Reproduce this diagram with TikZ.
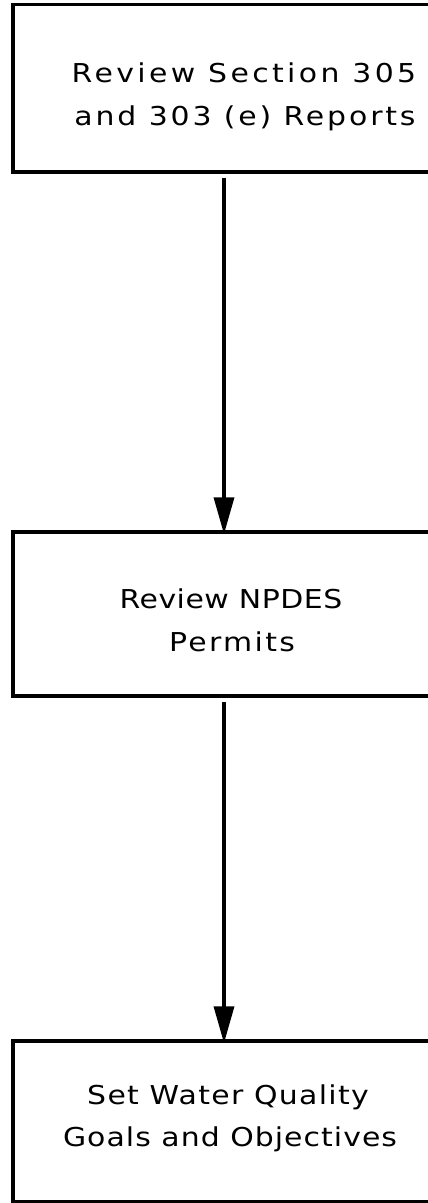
\documentclass[tikz,border=0pt]{standalone}
\usepackage{fontspec}
\setmainfont{DejaVu Sans}[FakeStretch=1.15]
\usetikzlibrary{arrows.meta}
% one line of box text, with its own letter spacing
\newcommand{\spaced}[2]{{\addfontfeature{LetterSpace=#1}#2}}
\begin{document}
\begin{tikzpicture}[x=1pt,y=-1pt,
  stage/.style={draw, line width=3.5pt, rectangle, inner sep=0pt,
                minimum width=437pt, anchor=north west},
  boxline/.style={font=\fontsize{26}{43}\selectfont, inner sep=0pt, anchor=base},
  flow/.style={line width=3.5pt, -{Triangle[length=37pt,width=20pt]},
               shorten <=4pt, shorten >=-4pt}]
\useasboundingbox (0,0) rectangle (428,1203);
\clip (0,0) rectangle (428,1203);

% process boxes (their right sides run past the page edge)
\node[stage, minimum height=167.5pt] (s1) at (11.25,2.75) {};
\node[stage, minimum height=164pt]   (s2) at (11.25,530.25) {};
\node[stage, minimum height=161pt]   (s3) at (11.25,1039.25) {};

% box texts, one node per line
\node[boxline] (t1a) at (244,82)   {\spaced{13}{Review Section 305}};
\node[boxline] (t1b) at (245,125)  {\spaced{11}{and 303 (e) Reports}};
\node[boxline] (t2a) at (231,608)  {\spaced{2}{Review NPDES}};
\node[boxline] (t2b) at (232,651)  {\spaced{9}{Permits}};
\node[boxline] (t3a) at (228,1104) {\spaced{5}{Set Water Quality}};
\node[boxline] (t3b) at (230,1146) {\spaced{4}{Goals and Objectives}};

% connectors
\coordinate (ax) at (224,0);
\draw[flow] (s1.south -| ax) -- (s2.north -| ax);
\draw[flow] (s2.south -| ax) -- (s3.north -| ax);
\end{tikzpicture}
\end{document}
